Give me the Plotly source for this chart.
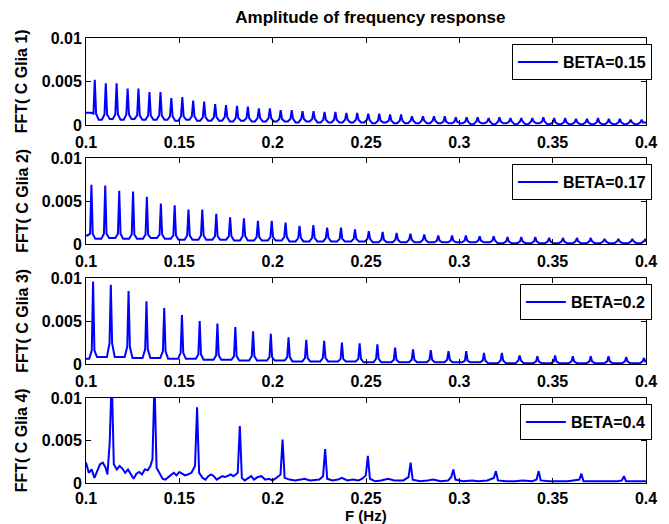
import plotly.graph_objects as go

# ---------------- data ----------------
x_ticks = [0.1, 0.15, 0.2, 0.25, 0.3, 0.35, 0.4]
x_tick_labels = ["0.1", "0.15", "0.2", "0.25", "0.3", "0.35", "0.4"]
y_ticks = [0, 0.005, 0.01]
y_tick_labels = ["0", "0.005", "0.01"]
legend_names = ["BETA=0.15", "BETA=0.17", "BETA=0.2", "BETA=0.4"]
y_titles = ["FFT( C Glia 1)", "FFT( C Glia 2)", "FFT( C Glia 3)", "FFT( C Glia 4)"]
chart_title = "Amplitude of frequency response"
x_title = "F (Hz)"

# Panel 1 (BETA=0.15): peak frequencies, peak heights, peak foot level, valley level between peaks
peak_f1 = [0.1047, 0.1106, 0.1164, 0.1223, 0.1281, 0.1340, 0.1399, 0.1457, 0.1516, 0.1574,
           0.1633, 0.1692, 0.1750, 0.1809, 0.1867, 0.1926, 0.1985, 0.2043, 0.2102, 0.2160,
           0.2219, 0.2278, 0.2336, 0.2395, 0.2453, 0.2512, 0.2571, 0.2629, 0.2688, 0.2746,
           0.2805, 0.2864, 0.2922, 0.2981, 0.3039, 0.3098, 0.3157, 0.3215, 0.3274, 0.3332,
           0.3391, 0.3450, 0.3508, 0.3567, 0.3625, 0.3684, 0.3743, 0.3801, 0.3860, 0.3918, 0.3977]
peak_h1 = [0.0052, 0.0048, 0.0048, 0.0042, 0.0042, 0.0038, 0.0038, 0.0031, 0.0032, 0.0028,
           0.0027, 0.0024, 0.0023, 0.0022, 0.0021, 0.0019, 0.0019, 0.0017, 0.0017, 0.0016,
           0.0016, 0.0015, 0.0015, 0.0014, 0.0014, 0.0013, 0.0013, 0.0012, 0.0012, 0.0010,
           0.0010, 0.0010, 0.0010, 0.0009, 0.0009, 0.0009, 0.0008, 0.0009, 0.0008, 0.0008,
           0.0008, 0.0009, 0.0008, 0.0008, 0.0007, 0.0007, 0.0008, 0.0007, 0.0007, 0.0006, 0.0006]
foot1 = [0.0013, 0.0012, 0.0012, 0.0012, 0.0011, 0.0011, 0.0011, 0.0010, 0.0010, 0.0010,
         0.0009, 0.0009, 0.0009, 0.0008, 0.0008, 0.0008, 0.0008, 0.0007, 0.0007, 0.0007,
         0.0007, 0.0006, 0.0006, 0.0006, 0.0006, 0.0006, 0.0005, 0.0005, 0.0005, 0.0005,
         0.0005, 0.0005, 0.0004, 0.0004, 0.0004, 0.0004, 0.0004, 0.0004, 0.0004, 0.0004,
         0.0004, 0.0004, 0.0003, 0.0003, 0.0003, 0.0003, 0.0003, 0.0003, 0.0003, 0.0003, 0.0003]
valley1 = [0.0014, 0.0006, 0.0007, 0.0006, 0.0007, 0.0006, 0.0006, 0.0006, 0.0005, 0.0006,
           0.0005, 0.0005, 0.0005, 0.0004, 0.0005, 0.0004, 0.0004, 0.0004, 0.0004, 0.0003,
           0.0004, 0.0003, 0.0003, 0.0003, 0.0003, 0.0003, 0.0002, 0.0003, 0.0002, 0.0002,
           0.0002, 0.0002, 0.0002, 0.0002, 0.0002, 0.0001, 0.0002, 0.0001, 0.0002, 0.0001,
           0.0001, 0.0002, 0.0001, 0.0001, 0.0001, 0.0001, 0.0001, 0.0001, 0.0001, 0.0001,
           0.0001, 0.0003]

# Panel 2 (BETA=0.17)
peak_f2 = [0.1029, 0.1103, 0.1178, 0.1252, 0.1326, 0.1401, 0.1475, 0.1549, 0.1623, 0.1698,
           0.1772, 0.1846, 0.1921, 0.1995, 0.2069, 0.2144, 0.2218, 0.2292, 0.2366, 0.2441,
           0.2515, 0.2589, 0.2664, 0.2738, 0.2812, 0.2887, 0.2961, 0.3035, 0.3109, 0.3184,
           0.3258, 0.3332, 0.3407, 0.3481, 0.3555, 0.3630, 0.3704, 0.3778, 0.3852, 0.3927, 0.3995]
peak_h2 = [0.0069, 0.0068, 0.0062, 0.0061, 0.0055, 0.0047, 0.0045, 0.0040, 0.0040, 0.0035,
           0.0031, 0.0030, 0.0027, 0.0027, 0.0025, 0.0021, 0.0022, 0.0019, 0.0019, 0.0017,
           0.0015, 0.0014, 0.0013, 0.0012, 0.0011, 0.0010, 0.0010, 0.0010, 0.0009, 0.0009,
           0.0008, 0.0008, 0.0008, 0.0007, 0.0007, 0.0007, 0.0007, 0.0006, 0.0006, 0.0006, 0.0005]
foot2 = [0.0012, 0.0012, 0.0012, 0.0011, 0.0011, 0.0011, 0.0010, 0.0010, 0.0010, 0.0009,
         0.0009, 0.0009, 0.0008, 0.0008, 0.0008, 0.0007, 0.0007, 0.0007, 0.0006, 0.0006,
         0.0006, 0.0005, 0.0005, 0.0005, 0.0005, 0.0004, 0.0004, 0.0004, 0.0004, 0.0004,
         0.0003, 0.0003, 0.0003, 0.0003, 0.0003, 0.0003, 0.0003, 0.0003, 0.0003, 0.0003, 0.0003]
valley2 = [0.0010, 0.0006, 0.0007, 0.0006, 0.0006, 0.0007, 0.0006, 0.0005, 0.0005, 0.0005,
           0.0005, 0.0004, 0.0004, 0.0004, 0.0004, 0.0003, 0.0003, 0.0003, 0.0003, 0.0003,
           0.0003, 0.0002, 0.0002, 0.0002, 0.0002, 0.0002, 0.0002, 0.0002, 0.0002, 0.0002,
           0.0001, 0.0001, 0.0001, 0.0001, 0.0001, 0.0001, 0.0001, 0.0001, 0.0001, 0.0001,
           0.0001, 0.0001]

# Panel 3 (BETA=0.2)
peak_f3 = [0.1038, 0.1133, 0.1228, 0.1324, 0.1419, 0.1514, 0.1609, 0.1704, 0.1800, 0.1895,
           0.1990, 0.2085, 0.2180, 0.2276, 0.2371, 0.2466, 0.2561, 0.2656, 0.2752, 0.2847,
           0.2942, 0.3037, 0.3132, 0.3228, 0.3323, 0.3418, 0.3513, 0.3608, 0.3704, 0.3799,
           0.3894, 0.3989]
peak_h3 = [0.0096, 0.0092, 0.0085, 0.0073, 0.0065, 0.0057, 0.0050, 0.0047, 0.0043, 0.0038,
           0.0035, 0.0031, 0.0028, 0.0027, 0.0025, 0.0024, 0.0023, 0.0019, 0.0017, 0.0016,
           0.0015, 0.0015, 0.0013, 0.0013, 0.0010, 0.0009, 0.0010, 0.0009, 0.0009, 0.0009,
           0.0008, 0.0007]
foot3 = [0.0016, 0.0024, 0.0020, 0.0017, 0.0015, 0.0013, 0.0011, 0.0010, 0.0009, 0.0009,
         0.0008, 0.0008, 0.0007, 0.0007, 0.0006, 0.0006, 0.0006, 0.0005, 0.0005, 0.0005,
         0.0005, 0.0004, 0.0004, 0.0004, 0.0004, 0.0003, 0.0003, 0.0003, 0.0003, 0.0003,
         0.0003, 0.0003]
valley3 = [0.0006, 0.0008, 0.0008, 0.0007, 0.0007, 0.0006, 0.0006, 0.0005, 0.0005, 0.0004,
           0.0004, 0.0004, 0.0003, 0.0003, 0.0003, 0.0003, 0.0002, 0.0002, 0.0002, 0.0002,
           0.0002, 0.0002, 0.0002, 0.0001, 0.0001, 0.0001, 0.0001, 0.0001, 0.0001, 0.0001,
           0.0001, 0.0001, 0.0003]

# Panel 4 (BETA=0.4): peaks (first two run off the top), shoulders, and baseline samples
peak_f4 = [0.1138, 0.1367, 0.1595, 0.1824, 0.2053, 0.2281, 0.2510, 0.2739, 0.2968, 0.3196,
           0.3425, 0.3654, 0.3882]
peak_h4 = [0.0125, 0.0120, 0.0089, 0.0067, 0.0051, 0.0040, 0.0032, 0.0024, 0.0016, 0.0014,
           0.0014, 0.0011, 0.0008]
foot_left4 = [0.0048, 0.0028, 0.0020, 0.0012, 0.0010, 0.0008, 0.0009, 0.0007, 0.0007, 0.0006,
              0.0004, 0.0004, 0.0003]
foot_right4 = [0.0022, 0.0018, 0.0012, 0.0006, 0.0006, 0.0005, 0.0005, 0.0004, 0.0004, 0.0003,
               0.0003, 0.0002, 0.0002]
base_f4 = [0.1000, 0.1015, 0.1030, 0.1045, 0.1060, 0.1075, 0.1090, 0.1105, 0.1115,
           0.1165, 0.1180, 0.1195, 0.1210, 0.1225, 0.1240, 0.1255, 0.1270, 0.1285, 0.1300,
           0.1315, 0.1330, 0.1345,
           0.1395, 0.1410, 0.1425, 0.1440, 0.1455, 0.1470, 0.1485, 0.1500, 0.1515, 0.1530,
           0.1545, 0.1565,
           0.1625, 0.1640, 0.1655, 0.1670, 0.1685, 0.1700, 0.1715, 0.1730, 0.1745, 0.1760,
           0.1775, 0.1790,
           0.1850, 0.1870, 0.1885, 0.1900, 0.1920, 0.1940, 0.1960, 0.1980, 0.2000, 0.2020,
           0.2090, 0.2120, 0.2150, 0.2170, 0.2200, 0.2250,
           0.2320, 0.2350, 0.2370, 0.2400, 0.2430, 0.2460, 0.2480,
           0.2550, 0.2580, 0.2620, 0.2650, 0.2700,
           0.2790, 0.2830, 0.2860, 0.2900, 0.2940,
           0.3020, 0.3070, 0.3100, 0.3150,
           0.3250, 0.3300, 0.3340, 0.3390,
           0.3480, 0.3530, 0.3580, 0.3610,
           0.3700, 0.3760, 0.3800, 0.3850,
           0.3920, 0.3960, 0.4000]
base_v4 = [0.0024, 0.0012, 0.0016, 0.0006, 0.0014, 0.0022, 0.0024, 0.0018, 0.0010,
           0.0016, 0.0020, 0.0017, 0.0012, 0.0016, 0.0010, 0.0005, 0.0011, 0.0013, 0.0010,
           0.0016, 0.0015, 0.0020,
           0.0010, 0.0005, 0.0004, 0.0007, 0.0010, 0.0012, 0.0009, 0.0013, 0.0011, 0.0009,
           0.0010, 0.0012,
           0.0006, 0.0004, 0.0008, 0.0010, 0.0008, 0.0004, 0.0006, 0.0008, 0.0007, 0.0009,
           0.0010, 0.0008,
           0.0003, 0.0006, 0.0008, 0.0004, 0.0007, 0.0008, 0.0004, 0.0005, 0.0003, 0.0006,
           0.0004, 0.0003, 0.0004, 0.0005, 0.0003, 0.0004,
           0.0003, 0.0004, 0.0006, 0.0003, 0.0004, 0.0003, 0.0005,
           0.0002, 0.0003, 0.0005, 0.0003, 0.0003,
           0.0002, 0.0003, 0.0004, 0.0002, 0.0003,
           0.0002, 0.0003, 0.0002, 0.0003,
           0.0002, 0.0002, 0.0003, 0.0002,
           0.0002, 0.0002, 0.0002, 0.0003,
           0.0002, 0.0002, 0.0002, 0.0002,
           0.0002, 0.0002, 0.0002]

# ---------------- build the line vertices from the data ----------------
HALF_W = 0.0007


def comb_line(pf, ph, foot, valley):
    xs, ys = [0.1], [valley[0]]
    for i, (f, h, ft) in enumerate(zip(pf, ph, foot)):
        xs += [f - 3 * HALF_W, f - HALF_W, f, f + HALF_W, f + 3 * HALF_W]
        ys += [valley[i], ft, h, ft, valley[i + 1]]
    if xs[-1] < 0.4:
        xs.append(0.4)
        ys.append(valley[-1])
    return xs, ys


def spectrum_line(pf, ph, fl, fr, bf, bv, hw=0.0011):
    pts = list(zip(bf, bv))
    for f, h, a, b in zip(pf, ph, fl, fr):
        pts += [(f - hw, a), (f, h), (f + hw, b)]
    pts.sort(key=lambda p: p[0])
    return [p[0] for p in pts], [p[1] for p in pts]


curves = [
    comb_line(peak_f1, peak_h1, foot1, valley1),
    comb_line(peak_f2, peak_h2, foot2, valley2),
    comb_line(peak_f3, peak_h3, foot3, valley3),
    spectrum_line(peak_f4, peak_h4, foot_left4, foot_right4, base_f4, base_v4),
]

# ---------------- figure ----------------
W, H = 669, 524
ML, MR, MT, MB = 86, 13, 38, 41
plot_w = W - ML - MR
plot_h = H - MT - MB
panel_px = [(38, 125), (158, 244), (278, 364), (398, 483)]
domains = [((H - MB - b) / plot_h, (H - MB - t) / plot_h) for t, b in panel_px]

FONT = "Liberation Sans, Arial, sans-serif"
BLUE = "#0000ff"

fig = go.Figure()
legend_keys = ["legend", "legend2", "legend3", "legend4"]
for i, (xs, ys) in enumerate(curves):
    fig.add_trace(go.Scatter(
        x=xs, y=ys, mode="lines", name=legend_names[i],
        line=dict(color=BLUE, width=2),
        xaxis="x" if i == 0 else f"x{i+1}",
        yaxis="y" if i == 0 else f"y{i+1}",
        legend=legend_keys[i], showlegend=True,
    ))

layout = dict(
    width=W, height=H,
    margin=dict(l=ML, r=MR, t=MT, b=MB),
    paper_bgcolor="white", plot_bgcolor="white",
    showlegend=True,
    title=dict(text=chart_title, x=370.4 / W, xanchor="center",
               y=1 - 17.5 / H, yanchor="middle",
               font=dict(family=FONT, size=17, color="black", weight="bold")),
)

axis_common = dict(showline=True, linecolor="black", linewidth=1, mirror="ticks",
                   ticks="inside", ticklen=5, tickcolor="black", tickwidth=1,
                   showgrid=False, zeroline=False,
                   tickfont=dict(family=FONT, size=16, color="black", weight="bold"))

annotations = []
for i in range(4):
    xk = "xaxis" if i == 0 else f"xaxis{i+1}"
    yk = "yaxis" if i == 0 else f"yaxis{i+1}"
    ya = "y" if i == 0 else f"y{i+1}"
    xa = "x" if i == 0 else f"x{i+1}"
    layout[xk] = dict(axis_common, range=[0.1, 0.4], tickvals=x_ticks, ticktext=x_tick_labels,
                      anchor=ya, domain=[0, 1], ticklabelstandoff=3 if i < 3 else 1)
    layout[yk] = dict(axis_common, range=[0, 0.01], tickvals=y_ticks, ticktext=y_tick_labels,
                      anchor=xa, domain=list(domains[i]))
    t, b = panel_px[i]
    layout[legend_keys[i]] = dict(
        x=(662 - ML) / plot_w, xanchor="right",
        y=(H - MB - (t + 6)) / plot_h, yanchor="top",
        bgcolor="white", bordercolor="black", borderwidth=1,
        font=dict(family=FONT, size=16, color="black", weight="bold"),
        itemwidth=40, tracegroupgap=0,
    )
    annotations.append(dict(
        text=y_titles[i], textangle=-90, showarrow=False,
        xref="paper", yref="paper",
        x=(20.7 - ML) / plot_w, xanchor="center",
        y=sum(domains[i]) / 2, yanchor="middle",
        font=dict(family=FONT, size=16, color="black", weight="bold"),
    ))

annotations.append(dict(
    text=x_title, showarrow=False, xref="paper", yref="paper",
    x=(370.5 - ML) / plot_w, xanchor="center",
    y=(H - MB - 515) / plot_h, yanchor="middle",
    font=dict(family=FONT, size=15, color="black", weight="bold"),
))
layout["annotations"] = annotations

fig.update_layout(**layout)
fig.write_html("out.html")
